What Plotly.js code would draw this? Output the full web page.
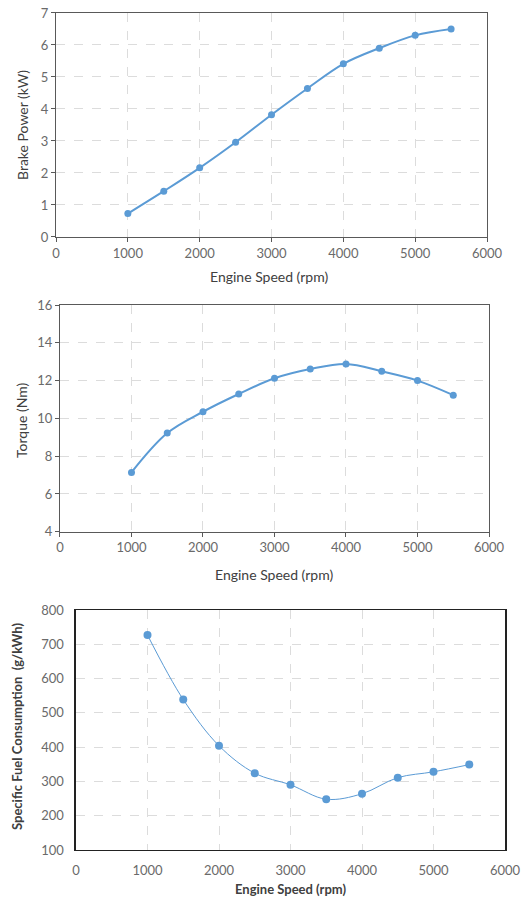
<!DOCTYPE html>
<html>
<head>
<meta charset="utf-8">
<script src="https://cdn.plot.ly/plotly-3.0.1.min.js"></script>
<style>html,body{margin:0;padding:0;background:#fff;}#chart{width:523px;height:900px;}</style>
</head>
<body>
<div id="chart"></div>
<script>
const speed = [1000, 1500, 2000, 2500, 3000, 3500, 4000, 4500, 5000, 5500];
const brakePower = [0.73, 1.43, 2.16, 2.96, 3.82, 4.64, 5.41, 5.90, 6.30, 6.50];
const torque = [7.14, 9.22, 10.35, 11.29, 12.12, 12.61, 12.88, 12.49, 12.00, 11.23];
const sfc = [727, 539, 404, 324, 290, 248, 264, 311, 328, 349];

const xTitle = "Engine Speed (rpm)";
const yTitle1 = "Brake Power (kW)";
const yTitle2 = "Torque (Nm)";
const yTitle3 = "Specific Fuel Consumption  (g/kWh)";

const blue = "#5b9bd5";
const font = "Lato, 'Open Sans', sans-serif";
const tickCol = "#6a6a6a";

const traces = [
  {x: speed, y: brakePower, xaxis: "x", yaxis: "y", type: "scatter", mode: "lines+markers",
   line: {color: blue, width: 2, shape: "spline"}, marker: {color: blue, size: 7}},
  {x: speed, y: torque, xaxis: "x2", yaxis: "y2", type: "scatter", mode: "lines+markers",
   line: {color: blue, width: 2, shape: "spline"}, marker: {color: blue, size: 7}},
  {x: speed, y: sfc, xaxis: "x3", yaxis: "y3", type: "scatter", mode: "lines+markers",
   line: {color: blue, width: 1, shape: "spline"}, marker: {color: blue, size: 8}}
];

function xa(domain, anchor, opts) {
  return Object.assign({
    domain: domain, anchor: anchor, range: [0, 6000], dtick: 1000, tick0: 0,
    showgrid: true, gridcolor: "#dcdcdc", griddash: "dash", gridwidth: 1,
    showline: true, mirror: true, linecolor: "#595959", linewidth: 1,
    ticks: "outside", ticklen: 4, tickcolor: "#595959",
    tickfont: {family: font, size: 13, color: tickCol},
    zeroline: false, fixedrange: true
  }, opts || {});
}
function ya(domain, anchor, range, dtick, opts) {
  return Object.assign({
    domain: domain, anchor: anchor, range: range, dtick: dtick,
    showgrid: true, gridcolor: "#dcdcdc", griddash: "dash", gridwidth: 1,
    showline: true, mirror: true, linecolor: "#595959", linewidth: 1,
    ticks: "outside", ticklen: 4, tickcolor: "#595959",
    tickfont: {family: font, size: 13, color: tickCol},
    zeroline: false, fixedrange: true
  }, opts || {});
}

const c3 = {linecolor: "#222", linewidth: 1.5, ticks: "", ticklabelstandoff: 8};

function ann(text, xpx, ypx, angle, size, bold) {
  return {text: text, xref: "paper", yref: "paper", x: xpx / 523, y: 1 - ypx / 900,
    xanchor: "center", yanchor: "middle", showarrow: false, textangle: angle,
    font: {family: font, size: size, color: "#404040", weight: bold ? "bold" : "normal"}};
}

const layout = {
  width: 523, height: 900,
  margin: {l: 0, r: 0, t: 0, b: 0},
  paper_bgcolor: "#fff", plot_bgcolor: "#fff",
  showlegend: false,
  xaxis: xa([0.1071, 0.9312], "y"),
  yaxis: ya([0.7367, 0.9856], "x", [0, 7], 1),
  xaxis2: xa([0.1147, 0.9350], "y2"),
  yaxis2: ya([0.4092, 0.6611], "x2", [4, 16], 2),
  xaxis3: xa([0.1453, 0.9656], "y3", c3),
  yaxis3: ya([0.0556, 0.3222], "x3", [100, 800], 100, c3),
  annotations: [
    ann(xTitle, 269, 276, 0, 14, false),
    ann(yTitle1, 23, 125, -90, 14, false),
    ann(xTitle, 274, 574, 0, 14, false),
    ann(yTitle2, 21, 420, -90, 14, false),
    ann(xTitle, 290, 889, 0, 13, true),
    ann(yTitle3, 17, 727, -90, 13, true)
  ]
};

Plotly.newPlot("chart", traces, layout, {displayModeBar: false, staticPlot: true});
</script>
</body>
</html>
